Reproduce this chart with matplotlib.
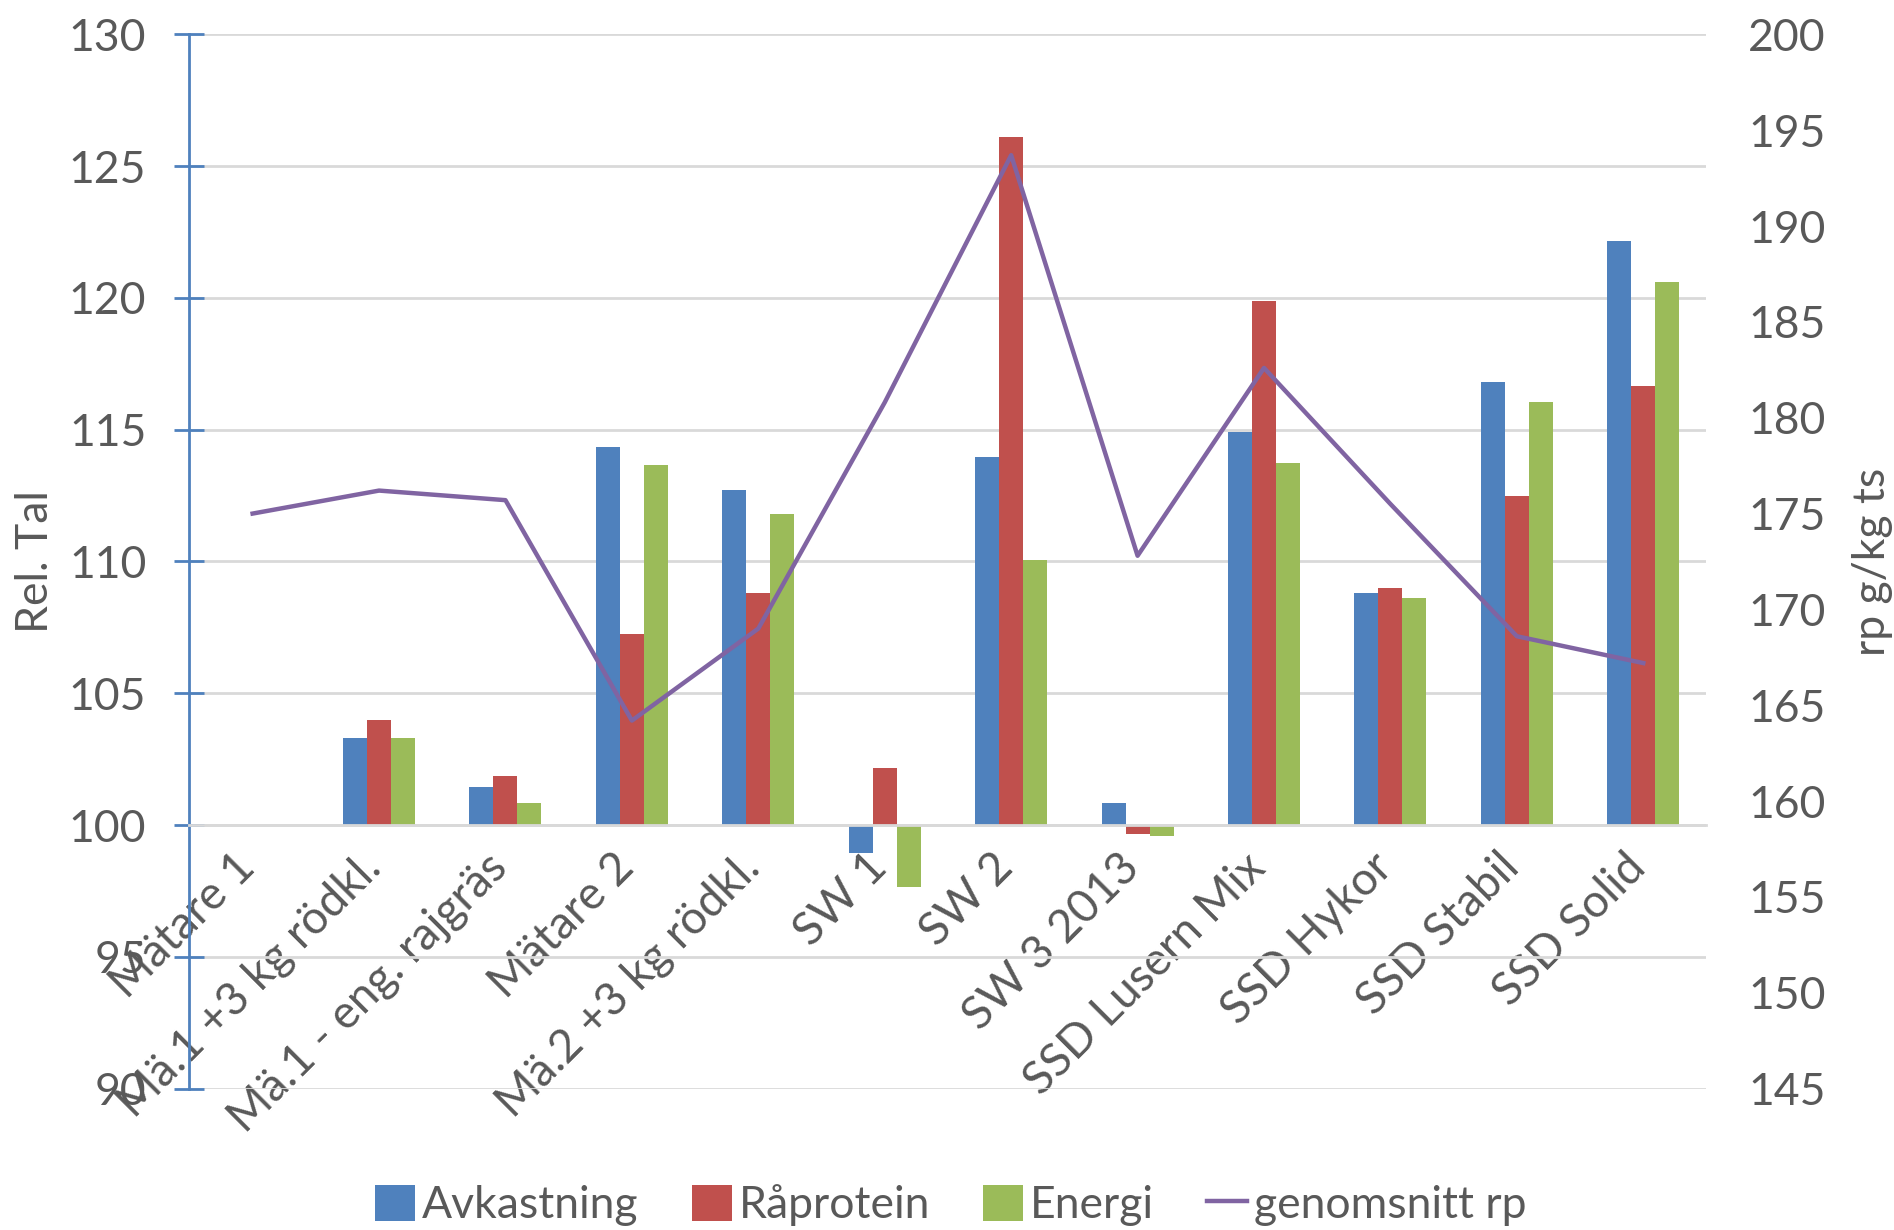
import matplotlib.pyplot as plt
import matplotlib.transforms as mtransforms
import numpy as np

categories = [
    "Mätare 1",
    "Mä.1 +3 kg rödkl.",
    "Mä.1 - eng. rajgräs",
    "Mätare 2",
    "Mä.2 +3 kg rödkl.",
    "SW 1",
    "SW 2",
    "SW 3 2013",
    "SSD Lusern Mix",
    "SSD Hykor",
    "SSD Stabil",
    "SSD Solid",
]

avkastning = [100, 103.3, 101.45, 114.35, 112.7, 98.95, 113.95, 100.85, 114.9, 108.8, 116.8, 122.15]
raprotein = [100, 104.0, 101.85, 107.25, 108.8, 102.15, 126.1, 99.65, 119.9, 109.0, 112.5, 116.65]
energi = [100, 103.3, 100.85, 113.65, 111.8, 97.65, 110.05, 99.6, 113.75, 108.6, 116.05, 120.6]

genomsnitt_rp = [175.0, 176.2, 175.7, 164.2, 169.0, 180.8, 193.7, 172.8, 182.6, 175.5, 168.6, 167.2]

left_ticks = [90, 95, 100, 105, 110, 115, 120, 125, 130]
right_ticks = [145, 150, 155, 160, 165, 170, 175, 180, 185, 190, 195, 200]

plt.rcParams["font.family"] = ["Lato", "DejaVu Sans"]

text_color = "#595959"
grid_color = "#D9D9D9"

fig = plt.figure(figsize=(18.94, 12.30), dpi=100)
ax = fig.add_axes([0.1, 0.115, 0.801, 0.857])

x = np.arange(len(categories))
w = 0.19
base = 100

ax.bar(x - w, np.array(avkastning) - base, w, bottom=base,
       color="#4F81BD", label="Avkastning", zorder=2)
ax.bar(x, np.array(raprotein) - base, w, bottom=base,
       color="#C0504D", label="Råprotein", zorder=2)
ax.bar(x + w, np.array(energi) - base, w, bottom=base,
       color="#9BBB59", label="Energi", zorder=2)

ax.set_xlim(-0.5, len(categories) - 0.5)
ax.set_ylim(90, 130)
ax.set_yticks(left_ticks)
ax.yaxis.grid(True, color=grid_color, linewidth=2)
ax.set_axisbelow(True)

for s in ["top", "right"]:
    ax.spines[s].set_visible(False)
ax.spines["left"].set_color("#4F81BD")
ax.spines["left"].set_linewidth(2)
ax.spines["bottom"].set_position(("data", 100))
ax.spines["bottom"].set_color(grid_color)
ax.spines["bottom"].set_linewidth(2)

ax.tick_params(axis="y", direction="inout", length=22, width=2,
               color="#4F81BD", labelsize=32, labelcolor=text_color, pad=20)
ax.tick_params(axis="x", length=0, labelsize=33, labelcolor=text_color, pad=20)

ax.set_xticks(x)
ax.set_xticklabels(categories, rotation=45, ha="right", va="center",
                   rotation_mode="anchor")
shift = mtransforms.ScaledTranslation(-0.05, -0.08, fig.dpi_scale_trans)
for lbl in ax.get_xticklabels():
    lbl.set_transform(lbl.get_transform() + shift)

ax.set_ylabel("Rel. Tal", fontsize=32, color=text_color)
ax.yaxis.set_label_coords(-0.088, 0.5)

ax2 = ax.twinx()
ax2.plot(x, genomsnitt_rp, color="#8064A2", linewidth=3.2, label="genomsnitt rp")
ax2.set_ylim(145, 200)
ax2.set_yticks(right_ticks)
for s in ["top", "right", "left", "bottom"]:
    ax2.spines[s].set_visible(False)
ax2.tick_params(axis="y", length=0, labelsize=32, labelcolor=text_color, pad=30)
ax2.set_ylabel("rp g/kg ts", fontsize=32, color=text_color)
ax2.yaxis.set_label_coords(1.096, 0.5)

h1, l1 = ax.get_legend_handles_labels()
h2, l2 = ax2.get_legend_handles_labels()
fig.legend(
    h1 + h2,
    l1 + l2,
    loc="center",
    bbox_to_anchor=(0.502, 0.02),
    ncol=4,
    frameon=False,
    fontsize=32,
    labelcolor=text_color,
    handlelength=0.9,
    handleheight=0.9,
    handletextpad=0.15,
    columnspacing=1.2,
)

fig.savefig("out.png", dpi=100)
plt.close(fig)
